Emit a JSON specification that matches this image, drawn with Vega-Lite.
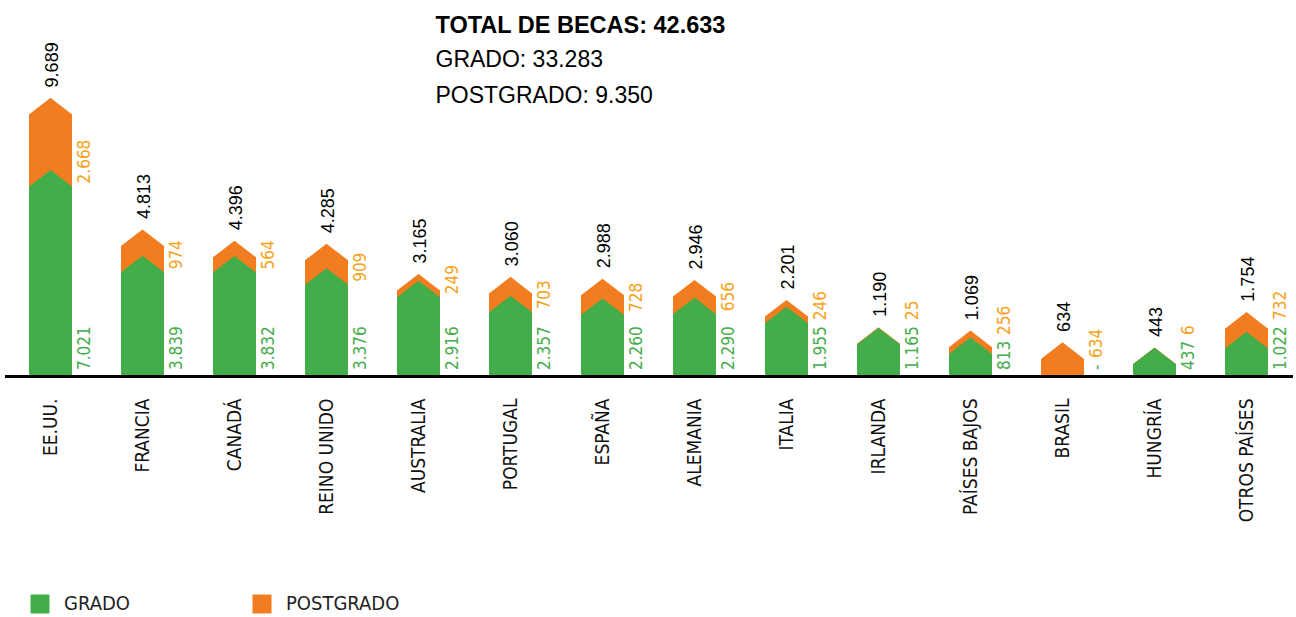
{
  "$schema": "https://vega.github.io/schema/vega-lite/v6.json",
  "width": 1288,
  "height": 270,
  "autosize": {"type": "none"},
  "padding": {"left": 4.5, "top": 106, "right": 3.5, "bottom": 241},
  "background": "white",
  "config": {
    "view": {"stroke": null},
    "locale": {"number": {"decimal": ",", "thousands": ".", "grouping": [3], "currency": ["", " €"]}}
  },
  "title": {
    "text": "TOTAL DE BECAS: 42.633",
    "subtitle": ["GRADO: 33.283", "POSTGRADO: 9.350"],
    "anchor": "start",
    "frame": "group",
    "dx": 431,
    "dy": 66,
    "offset": 0,
    "font": "Liberation Sans",
    "fontSize": 23.5,
    "fontWeight": "bold",
    "color": "#000000",
    "subtitleFont": "Liberation Sans",
    "subtitleFontSize": 23,
    "subtitleFontWeight": "normal",
    "subtitleColor": "#000000",
    "subtitleLineHeight": 36,
    "subtitlePadding": 12
  },
  "data": {
    "values": [
      {"pais": "EE.UU.", "grado": 7021, "postgrado": 2668, "total": 9689},
      {"pais": "FRANCIA", "grado": 3839, "postgrado": 974, "total": 4813},
      {"pais": "CANADÁ", "grado": 3832, "postgrado": 564, "total": 4396},
      {"pais": "REINO UNIDO", "grado": 3376, "postgrado": 909, "total": 4285},
      {"pais": "AUSTRALIA", "grado": 2916, "postgrado": 249, "total": 3165},
      {"pais": "PORTUGAL", "grado": 2357, "postgrado": 703, "total": 3060},
      {"pais": "ESPAÑA", "grado": 2260, "postgrado": 728, "total": 2988},
      {"pais": "ALEMANIA", "grado": 2290, "postgrado": 656, "total": 2946},
      {"pais": "ITALIA", "grado": 1955, "postgrado": 246, "total": 2201},
      {"pais": "IRLANDA", "grado": 1165, "postgrado": 25, "total": 1190},
      {"pais": "PAÍSES BAJOS", "grado": 813, "postgrado": 256, "total": 1069},
      {"pais": "BRASIL", "grado": 0, "postgrado": 634, "total": 634},
      {"pais": "HUNGRÍA", "grado": 437, "postgrado": 6, "total": 443},
      {"pais": "OTROS PAÍSES", "grado": 1022, "postgrado": 732, "total": 1754}
    ]
  },
  "encoding": {
    "x": {
      "field": "pais",
      "type": "nominal",
      "sort": null,
      "scale": {"paddingInner": 0, "paddingOuter": 0},
      "axis": {
        "title": null,
        "labelAngle": -90,
        "labelAlign": "right",
        "labelBaseline": "middle",
        "labelFont": "DejaVu Sans Condensed, Liberation Sans",
        "labelFontSize": 19,
        "labelColor": "#111111",
        "labelPadding": 22,
        "labelLimit": 0,
        "ticks": false,
        "domainColor": "#000000",
        "domainWidth": 3,
        "zindex": 1
      }
    }
  },
  "layer": [
    {
      "mark": {"type": "bar", "size": 43},
      "encoding": {
        "y": {"field": "total", "type": "quantitative", "scale": {"domain": [0, 10000]}, "axis": null},
        "color": {
          "datum": "POSTGRADO",
          "scale": {"domain": ["GRADO", "POSTGRADO"], "range": ["#42AD49", "#F27C20"]},
          "legend": {
            "title": null,
            "orient": "none",
            "legendX": 25.5,
            "legendY": 488,
            "direction": "horizontal",
            "symbolType": "square",
            "symbolSize": 361,
            "symbolStrokeWidth": 0,
            "symbolOpacity": 1,
            "labelFont": "DejaVu Sans Condensed, Liberation Sans",
            "labelFontSize": 20,
            "labelColor": "#222222",
            "labelOffset": 14,
            "columnPadding": 122
          }
        }
      }
    },
    {
      "mark": {"type": "point", "shape": "M-1,0.06L-1,0L0,-0.77L1,0L1,0.06Z", "size": 1849, "filled": true, "opacity": 1, "color": "#F27C20", "strokeWidth": 0},
      "encoding": {
        "y": {"field": "total", "type": "quantitative", "scale": {"domain": [0, 10000]}, "axis": null}
      }
    },
    {
      "transform": [{"filter": "datum.grado > 0"}],
      "mark": {"type": "bar", "size": 43},
      "encoding": {
        "y": {"field": "grado", "type": "quantitative", "scale": {"domain": [0, 10000]}, "axis": null},
        "color": {"datum": "GRADO"}
      }
    },
    {
      "transform": [{"filter": "datum.grado > 0"}],
      "mark": {"type": "point", "shape": "M-1,0.06L-1,0L0,-0.77L1,0L1,0.06Z", "size": 1849, "filled": true, "opacity": 1, "color": "#42AD49", "strokeWidth": 0},
      "encoding": {
        "y": {"field": "grado", "type": "quantitative", "scale": {"domain": [0, 10000]}, "axis": null}
      }
    },
    {
      "mark": {"type": "text", "angle": 270, "align": "left", "baseline": "middle", "dx": 27, "dy": 2, "font": "Liberation Sans", "fontSize": 18, "color": "#000000"},
      "encoding": {
        "y": {"field": "total", "type": "quantitative", "scale": {"domain": [0, 10000]}, "axis": null},
        "text": {"field": "total", "type": "quantitative", "format": ",d"}
      }
    },
    {
      "mark": {"type": "text", "angle": 270, "align": "left", "baseline": "middle", "dx": 6, "dy": 34.5, "font": "DejaVu Sans Condensed, Liberation Sans", "fontSize": 17, "color": "#45AE4B"},
      "encoding": {
        "y": {"datum": 0, "type": "quantitative", "scale": {"domain": [0, 10000]}, "axis": null},
        "text": {"condition": {"test": "datum.grado === 0", "value": "-"}, "field": "grado", "type": "quantitative", "format": ",d"}
      }
    },
    {
      "transform": [{"filter": "datum.grado >= 1850"}],
      "mark": {"type": "text", "angle": 270, "align": "left", "baseline": "middle", "dx": 3, "dy": 34.5, "font": "DejaVu Sans Condensed, Liberation Sans", "fontSize": 17, "color": "#F7A21B"},
      "encoding": {
        "y": {"field": "grado", "type": "quantitative", "scale": {"domain": [0, 10000]}, "axis": null},
        "text": {"field": "postgrado", "type": "quantitative", "format": ",d"}
      }
    },
    {
      "transform": [{"filter": "datum.grado >= 1000 && datum.grado < 1850"}],
      "mark": {"type": "text", "angle": 270, "align": "left", "baseline": "middle", "dx": 56, "dy": 34.5, "font": "DejaVu Sans Condensed, Liberation Sans", "fontSize": 17, "color": "#F7A21B"},
      "encoding": {
        "y": {"datum": 0, "type": "quantitative", "scale": {"domain": [0, 10000]}, "axis": null},
        "text": {"field": "postgrado", "type": "quantitative", "format": ",d"}
      }
    },
    {
      "transform": [{"filter": "datum.grado > 0 && datum.grado < 1000"}],
      "mark": {"type": "text", "angle": 270, "align": "left", "baseline": "middle", "dx": 41, "dy": 34.5, "font": "DejaVu Sans Condensed, Liberation Sans", "fontSize": 17, "color": "#F7A21B"},
      "encoding": {
        "y": {"datum": 0, "type": "quantitative", "scale": {"domain": [0, 10000]}, "axis": null},
        "text": {"field": "postgrado", "type": "quantitative", "format": ",d"}
      }
    },
    {
      "transform": [{"filter": "datum.grado === 0"}],
      "mark": {"type": "text", "angle": 270, "align": "left", "baseline": "middle", "dx": 18, "dy": 34.5, "font": "DejaVu Sans Condensed, Liberation Sans", "fontSize": 17, "color": "#F7A21B"},
      "encoding": {
        "y": {"datum": 0, "type": "quantitative", "scale": {"domain": [0, 10000]}, "axis": null},
        "text": {"field": "postgrado", "type": "quantitative", "format": ",d"}
      }
    }
  ]
}
